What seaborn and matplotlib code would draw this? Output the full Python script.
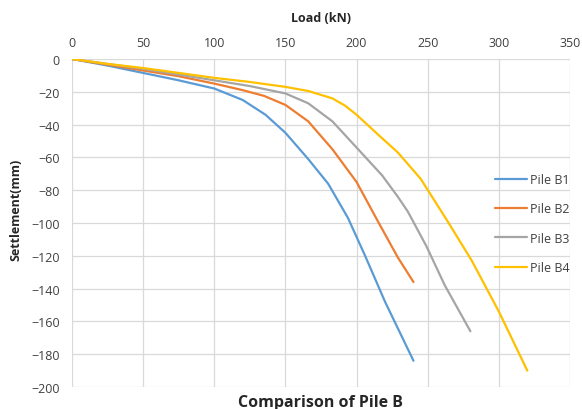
import matplotlib
matplotlib.use("Agg")
import matplotlib.pyplot as plt
import seaborn as sns
import pandas as pd

load_b1 = [0, 25, 50, 75, 100, 120, 136, 150, 166, 180, 194, 206, 220, 240]
sett_b1 = [0, -4, -8.5, -13, -18, -25, -34, -45, -61, -76, -97, -120, -148, -184]
load_b2 = [0, 25, 50, 75, 100, 120, 135, 150, 166, 183, 200, 215, 229, 240]
sett_b2 = [0, -3.5, -7, -10.5, -15, -19, -22.5, -28, -38, -55, -75, -99, -121, -136]
load_b3 = [0, 25, 50, 75, 100, 125, 150, 166, 183, 200, 218, 229, 236, 249, 262, 280]
sett_b3 = [0, -3, -6, -9.5, -13, -16.5, -21, -27, -38, -54, -71, -84, -93, -114, -138, -166]
load_b4 = [0, 25, 50, 75, 100, 125, 150, 166, 183, 192, 200, 215, 229, 245, 264, 281, 300, 320]
sett_b4 = [0, -3, -5.5, -8.5, -11.5, -14, -17, -19.5, -24, -28.5, -34, -46, -57, -73, -99, -123, -154, -190]
series_names = ["Pile B1", "Pile B2", "Pile B3", "Pile B4"]
colors = ["#5B9BD5", "#ED7D31", "#A5A5A5", "#FFC000"]

frames = []
for name, xs, ys in zip(series_names,
                        [load_b1, load_b2, load_b3, load_b4],
                        [sett_b1, sett_b2, sett_b3, sett_b4]):
    frames.append(pd.DataFrame({"Load": xs, "Settlement": ys, "Pile": name}))
df = pd.concat(frames, ignore_index=True)

sns.set_style("white")
plt.rcParams['font.family'] = ['Open Sans', 'DejaVu Sans']

fig = plt.figure(figsize=(5.82, 4.10), dpi=100)
ax = fig.add_axes([72/582, 1-388/410, (570-72)/582, (388-60)/410])

sns.lineplot(data=df, x="Load", y="Settlement", hue="Pile", palette=colors,
             linewidth=1.6, ax=ax, sort=False, estimator=None)
for ln in ax.lines:
    ln.set_solid_joinstyle("round")
    ln.set_solid_capstyle("round")

ax.set_xlim(0, 350)
ax.set_ylim(-200, 0)
ax.set_xticks(range(0, 351, 50))
ax.set_yticks(range(-200, 1, 20))
ax.xaxis.tick_top()
ax.tick_params(axis='both', length=0, labelsize=9, labelcolor="#404040")
ax.tick_params(axis='x', pad=7)
ax.tick_params(axis='y', pad=9)
ax.grid(True, color="#d9d9d9", linewidth=0.9)
ax.set_axisbelow(True)
for s in ax.spines.values():
    s.set_visible(False)

ax.set_xlabel("")
ax.set_ylabel("")
fig.text(321/582, 1-403/410, "Comparison of Pile B", ha="center", va="center",
         fontsize=11.5, fontweight="bold", color="#262626")
fig.text(16/582, 1-210/410, "Settlement(mm)", ha="center", va="center", rotation=90,
         fontsize=9, fontweight="bold", color="#262626")
fig.text(321/582, 1-18/410, "Load (kN)", ha="center", va="center",
         fontsize=9, fontweight="bold", color="#262626")

leg = ax.legend(loc="upper left", frameon=False,
                fontsize=9, handlelength=2.5, labelspacing=1.3, handletextpad=0.3,
                bbox_to_anchor=(484/582, 1-163/410), bbox_transform=fig.transFigure)
for t in leg.get_texts():
    t.set_color("#404040")

fig.savefig("out.png", dpi=100)
